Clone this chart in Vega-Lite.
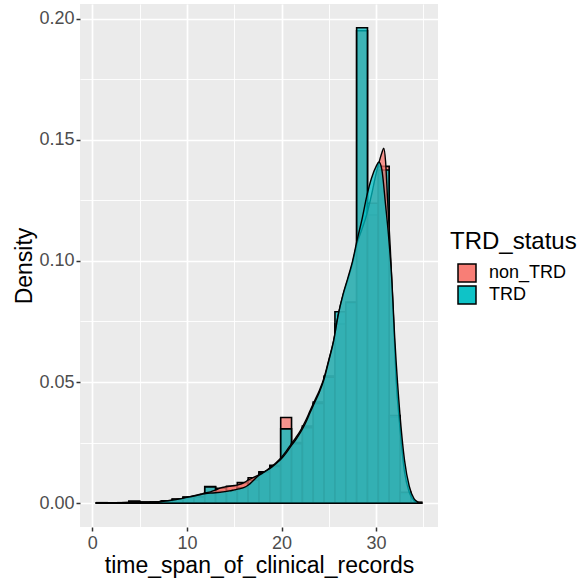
{
  "$schema": "https://vega.github.io/schema/vega-lite/v6.json",
  "width": 358,
  "height": 523,
  "autosize": {"type": "none"},
  "padding": {"left": 80, "top": 4, "right": 147, "bottom": 51},
  "background": "white",
  "config": {
    "view": {"fill": "#EBEBEB", "stroke": null},
    "font": "Liberation Sans",
    "axis": {
      "domain": false,
      "gridColor": "white",
      "tickColor": "#333333",
      "tickSize": 4,
      "tickWidth": 1.5,
      "labelColor": "#4D4D4D",
      "labelFontSize": 18,
      "labelFont": "Liberation Sans",
      "labelFlush": false,
      "labelOverlap": false,
      "titleFont": "Liberation Sans",
      "titleFontSize": 23,
      "titleFontWeight": "normal",
      "titleColor": "black"
    }
  },
  "datasets": {
    "bins": [
      {"TRD_status": "non_TRD", "x0": 0.42, "x1": 1.567, "density": 0.0002},
      {"TRD_status": "non_TRD", "x0": 1.567, "x1": 2.713, "density": 0.0001},
      {"TRD_status": "non_TRD", "x0": 2.713, "x1": 3.86, "density": 0.0002},
      {"TRD_status": "non_TRD", "x0": 3.86, "x1": 5.007, "density": 0.0008},
      {"TRD_status": "non_TRD", "x0": 5.007, "x1": 6.153, "density": 0.0004},
      {"TRD_status": "non_TRD", "x0": 6.153, "x1": 7.3, "density": 0.0004},
      {"TRD_status": "non_TRD", "x0": 7.3, "x1": 8.447, "density": 0.0009},
      {"TRD_status": "non_TRD", "x0": 8.447, "x1": 9.593, "density": 0.0017},
      {"TRD_status": "non_TRD", "x0": 9.593, "x1": 10.74, "density": 0.0025},
      {"TRD_status": "non_TRD", "x0": 10.74, "x1": 11.887, "density": 0.0027},
      {"TRD_status": "non_TRD", "x0": 11.887, "x1": 13.033, "density": 0.0069},
      {"TRD_status": "non_TRD", "x0": 13.033, "x1": 14.18, "density": 0.0062},
      {"TRD_status": "non_TRD", "x0": 14.18, "x1": 15.327, "density": 0.007},
      {"TRD_status": "non_TRD", "x0": 15.327, "x1": 16.473, "density": 0.0085},
      {"TRD_status": "non_TRD", "x0": 16.473, "x1": 17.62, "density": 0.0105},
      {"TRD_status": "non_TRD", "x0": 17.62, "x1": 18.767, "density": 0.013},
      {"TRD_status": "non_TRD", "x0": 18.767, "x1": 19.913, "density": 0.0156},
      {"TRD_status": "non_TRD", "x0": 19.913, "x1": 21.06, "density": 0.0354},
      {"TRD_status": "non_TRD", "x0": 21.06, "x1": 22.207, "density": 0.025},
      {"TRD_status": "non_TRD", "x0": 22.207, "x1": 23.353, "density": 0.0318},
      {"TRD_status": "non_TRD", "x0": 23.353, "x1": 24.5, "density": 0.0418},
      {"TRD_status": "non_TRD", "x0": 24.5, "x1": 25.647, "density": 0.0525},
      {"TRD_status": "non_TRD", "x0": 25.647, "x1": 26.793, "density": 0.074},
      {"TRD_status": "non_TRD", "x0": 26.793, "x1": 27.94, "density": 0.0825},
      {"TRD_status": "non_TRD", "x0": 27.94, "x1": 29.087, "density": 0.195},
      {"TRD_status": "non_TRD", "x0": 29.087, "x1": 30.233, "density": 0.119},
      {"TRD_status": "non_TRD", "x0": 30.233, "x1": 31.38, "density": 0.139},
      {"TRD_status": "non_TRD", "x0": 31.38, "x1": 32.527, "density": 0.0355},
      {"TRD_status": "non_TRD", "x0": 32.527, "x1": 33.673, "density": 0.004},
      {"TRD_status": "non_TRD", "x0": 33.673, "x1": 34.82, "density": 0.0003},
      {"TRD_status": "TRD", "x0": 0.42, "x1": 1.567, "density": 0.0002},
      {"TRD_status": "TRD", "x0": 1.567, "x1": 2.713, "density": 0.0001},
      {"TRD_status": "TRD", "x0": 2.713, "x1": 3.86, "density": 0.0002},
      {"TRD_status": "TRD", "x0": 3.86, "x1": 5.007, "density": 0.0008},
      {"TRD_status": "TRD", "x0": 5.007, "x1": 6.153, "density": 0.0004},
      {"TRD_status": "TRD", "x0": 6.153, "x1": 7.3, "density": 0.0004},
      {"TRD_status": "TRD", "x0": 7.3, "x1": 8.447, "density": 0.0009},
      {"TRD_status": "TRD", "x0": 8.447, "x1": 9.593, "density": 0.0016},
      {"TRD_status": "TRD", "x0": 9.593, "x1": 10.74, "density": 0.0024},
      {"TRD_status": "TRD", "x0": 10.74, "x1": 11.887, "density": 0.0026},
      {"TRD_status": "TRD", "x0": 11.887, "x1": 13.033, "density": 0.0067},
      {"TRD_status": "TRD", "x0": 13.033, "x1": 14.18, "density": 0.0048},
      {"TRD_status": "TRD", "x0": 14.18, "x1": 15.327, "density": 0.0052},
      {"TRD_status": "TRD", "x0": 15.327, "x1": 16.473, "density": 0.0064},
      {"TRD_status": "TRD", "x0": 16.473, "x1": 17.62, "density": 0.0095},
      {"TRD_status": "TRD", "x0": 17.62, "x1": 18.767, "density": 0.0128},
      {"TRD_status": "TRD", "x0": 18.767, "x1": 19.913, "density": 0.0152},
      {"TRD_status": "TRD", "x0": 19.913, "x1": 21.06, "density": 0.0307},
      {"TRD_status": "TRD", "x0": 21.06, "x1": 22.207, "density": 0.0246},
      {"TRD_status": "TRD", "x0": 22.207, "x1": 23.353, "density": 0.0312},
      {"TRD_status": "TRD", "x0": 23.353, "x1": 24.5, "density": 0.0412},
      {"TRD_status": "TRD", "x0": 24.5, "x1": 25.647, "density": 0.052},
      {"TRD_status": "TRD", "x0": 25.647, "x1": 26.793, "density": 0.079},
      {"TRD_status": "TRD", "x0": 26.793, "x1": 27.94, "density": 0.083},
      {"TRD_status": "TRD", "x0": 27.94, "x1": 29.087, "density": 0.1962},
      {"TRD_status": "TRD", "x0": 29.087, "x1": 30.233, "density": 0.1238},
      {"TRD_status": "TRD", "x0": 30.233, "x1": 31.38, "density": 0.1375},
      {"TRD_status": "TRD", "x0": 31.38, "x1": 32.527, "density": 0.0362},
      {"TRD_status": "TRD", "x0": 32.527, "x1": 33.673, "density": 0.0045},
      {"TRD_status": "TRD", "x0": 33.673, "x1": 34.82, "density": 0.0004}
    ],
    "curves": [
      {"TRD_status": "non_TRD", "x": 0.42, "density": 0},
      {"TRD_status": "non_TRD", "x": 1, "density": 0.00005},
      {"TRD_status": "non_TRD", "x": 2, "density": 0.0001},
      {"TRD_status": "non_TRD", "x": 3, "density": 0.0002},
      {"TRD_status": "non_TRD", "x": 4, "density": 0.0003},
      {"TRD_status": "non_TRD", "x": 5, "density": 0.0004},
      {"TRD_status": "non_TRD", "x": 6, "density": 0.0004},
      {"TRD_status": "non_TRD", "x": 7, "density": 0.0006},
      {"TRD_status": "non_TRD", "x": 8, "density": 0.001},
      {"TRD_status": "non_TRD", "x": 9, "density": 0.0016},
      {"TRD_status": "non_TRD", "x": 10, "density": 0.0024},
      {"TRD_status": "non_TRD", "x": 11, "density": 0.0033},
      {"TRD_status": "non_TRD", "x": 11.5, "density": 0.0038},
      {"TRD_status": "non_TRD", "x": 12, "density": 0.0043},
      {"TRD_status": "non_TRD", "x": 12.5, "density": 0.0047},
      {"TRD_status": "non_TRD", "x": 13, "density": 0.0054},
      {"TRD_status": "non_TRD", "x": 13.5, "density": 0.0062},
      {"TRD_status": "non_TRD", "x": 14, "density": 0.0067},
      {"TRD_status": "non_TRD", "x": 14.5, "density": 0.007},
      {"TRD_status": "non_TRD", "x": 15, "density": 0.0073},
      {"TRD_status": "non_TRD", "x": 15.5, "density": 0.0077},
      {"TRD_status": "non_TRD", "x": 16, "density": 0.0084},
      {"TRD_status": "non_TRD", "x": 16.5, "density": 0.0096},
      {"TRD_status": "non_TRD", "x": 17, "density": 0.0106},
      {"TRD_status": "non_TRD", "x": 17.5, "density": 0.0115},
      {"TRD_status": "non_TRD", "x": 18, "density": 0.0126},
      {"TRD_status": "non_TRD", "x": 18.5, "density": 0.0138},
      {"TRD_status": "non_TRD", "x": 19, "density": 0.0153},
      {"TRD_status": "non_TRD", "x": 19.5, "density": 0.017},
      {"TRD_status": "non_TRD", "x": 20, "density": 0.019},
      {"TRD_status": "non_TRD", "x": 20.5, "density": 0.0215},
      {"TRD_status": "non_TRD", "x": 21, "density": 0.0243},
      {"TRD_status": "non_TRD", "x": 21.5, "density": 0.027},
      {"TRD_status": "non_TRD", "x": 22, "density": 0.03},
      {"TRD_status": "non_TRD", "x": 22.5, "density": 0.0337},
      {"TRD_status": "non_TRD", "x": 23, "density": 0.038},
      {"TRD_status": "non_TRD", "x": 23.5, "density": 0.0423},
      {"TRD_status": "non_TRD", "x": 24, "density": 0.0465},
      {"TRD_status": "non_TRD", "x": 24.5, "density": 0.0518},
      {"TRD_status": "non_TRD", "x": 25, "density": 0.0592},
      {"TRD_status": "non_TRD", "x": 25.5, "density": 0.067},
      {"TRD_status": "non_TRD", "x": 26, "density": 0.0778},
      {"TRD_status": "non_TRD", "x": 26.5, "density": 0.0858},
      {"TRD_status": "non_TRD", "x": 27, "density": 0.0922},
      {"TRD_status": "non_TRD", "x": 27.5, "density": 0.099},
      {"TRD_status": "non_TRD", "x": 28, "density": 0.1075},
      {"TRD_status": "non_TRD", "x": 28.5, "density": 0.113},
      {"TRD_status": "non_TRD", "x": 29, "density": 0.119},
      {"TRD_status": "non_TRD", "x": 29.5, "density": 0.127},
      {"TRD_status": "non_TRD", "x": 30, "density": 0.136},
      {"TRD_status": "non_TRD", "x": 30.4, "density": 0.142},
      {"TRD_status": "non_TRD", "x": 30.6, "density": 0.1445},
      {"TRD_status": "non_TRD", "x": 30.8, "density": 0.1465},
      {"TRD_status": "non_TRD", "x": 31, "density": 0.141},
      {"TRD_status": "non_TRD", "x": 31.2, "density": 0.126},
      {"TRD_status": "non_TRD", "x": 31.5, "density": 0.105},
      {"TRD_status": "non_TRD", "x": 31.8, "density": 0.08},
      {"TRD_status": "non_TRD", "x": 32.1, "density": 0.052},
      {"TRD_status": "non_TRD", "x": 32.5, "density": 0.032},
      {"TRD_status": "non_TRD", "x": 33, "density": 0.013},
      {"TRD_status": "non_TRD", "x": 33.5, "density": 0.0045},
      {"TRD_status": "non_TRD", "x": 34, "density": 0.001},
      {"TRD_status": "non_TRD", "x": 34.4, "density": 0.0002},
      {"TRD_status": "non_TRD", "x": 34.82, "density": 0},
      {"TRD_status": "TRD", "x": 0.42, "density": 0},
      {"TRD_status": "TRD", "x": 1, "density": 0.00005},
      {"TRD_status": "TRD", "x": 2, "density": 0.0001},
      {"TRD_status": "TRD", "x": 3, "density": 0.0002},
      {"TRD_status": "TRD", "x": 4, "density": 0.0003},
      {"TRD_status": "TRD", "x": 5, "density": 0.0004},
      {"TRD_status": "TRD", "x": 6, "density": 0.0004},
      {"TRD_status": "TRD", "x": 7, "density": 0.0006},
      {"TRD_status": "TRD", "x": 8, "density": 0.001},
      {"TRD_status": "TRD", "x": 9, "density": 0.0016},
      {"TRD_status": "TRD", "x": 10, "density": 0.0024},
      {"TRD_status": "TRD", "x": 11, "density": 0.0032},
      {"TRD_status": "TRD", "x": 11.5, "density": 0.0036},
      {"TRD_status": "TRD", "x": 12, "density": 0.004},
      {"TRD_status": "TRD", "x": 12.5, "density": 0.0042},
      {"TRD_status": "TRD", "x": 13, "density": 0.0043},
      {"TRD_status": "TRD", "x": 13.5, "density": 0.0045},
      {"TRD_status": "TRD", "x": 14, "density": 0.0048},
      {"TRD_status": "TRD", "x": 14.5, "density": 0.0051},
      {"TRD_status": "TRD", "x": 15, "density": 0.0055},
      {"TRD_status": "TRD", "x": 15.5, "density": 0.0059},
      {"TRD_status": "TRD", "x": 16, "density": 0.0064},
      {"TRD_status": "TRD", "x": 16.5, "density": 0.0075},
      {"TRD_status": "TRD", "x": 17, "density": 0.0093},
      {"TRD_status": "TRD", "x": 17.5, "density": 0.0112},
      {"TRD_status": "TRD", "x": 18, "density": 0.0124},
      {"TRD_status": "TRD", "x": 18.5, "density": 0.0136},
      {"TRD_status": "TRD", "x": 19, "density": 0.015},
      {"TRD_status": "TRD", "x": 19.5, "density": 0.0166},
      {"TRD_status": "TRD", "x": 20, "density": 0.0184},
      {"TRD_status": "TRD", "x": 20.5, "density": 0.0208},
      {"TRD_status": "TRD", "x": 21, "density": 0.0236},
      {"TRD_status": "TRD", "x": 21.5, "density": 0.0262},
      {"TRD_status": "TRD", "x": 22, "density": 0.0292},
      {"TRD_status": "TRD", "x": 22.5, "density": 0.0328},
      {"TRD_status": "TRD", "x": 23, "density": 0.0372},
      {"TRD_status": "TRD", "x": 23.5, "density": 0.0416},
      {"TRD_status": "TRD", "x": 24, "density": 0.0458},
      {"TRD_status": "TRD", "x": 24.5, "density": 0.0512},
      {"TRD_status": "TRD", "x": 25, "density": 0.0588},
      {"TRD_status": "TRD", "x": 25.5, "density": 0.0668},
      {"TRD_status": "TRD", "x": 26, "density": 0.0778},
      {"TRD_status": "TRD", "x": 26.5, "density": 0.0862},
      {"TRD_status": "TRD", "x": 27, "density": 0.0928},
      {"TRD_status": "TRD", "x": 27.5, "density": 0.0998},
      {"TRD_status": "TRD", "x": 28, "density": 0.1088},
      {"TRD_status": "TRD", "x": 28.5, "density": 0.117},
      {"TRD_status": "TRD", "x": 29, "density": 0.1265},
      {"TRD_status": "TRD", "x": 29.5, "density": 0.134},
      {"TRD_status": "TRD", "x": 30, "density": 0.139},
      {"TRD_status": "TRD", "x": 30.3, "density": 0.1408},
      {"TRD_status": "TRD", "x": 30.6, "density": 0.1378},
      {"TRD_status": "TRD", "x": 31, "density": 0.123},
      {"TRD_status": "TRD", "x": 31.3, "density": 0.111},
      {"TRD_status": "TRD", "x": 31.6, "density": 0.096},
      {"TRD_status": "TRD", "x": 32, "density": 0.066},
      {"TRD_status": "TRD", "x": 32.5, "density": 0.0375},
      {"TRD_status": "TRD", "x": 33, "density": 0.0178},
      {"TRD_status": "TRD", "x": 33.5, "density": 0.007},
      {"TRD_status": "TRD", "x": 34, "density": 0.0019},
      {"TRD_status": "TRD", "x": 34.4, "density": 0.0005},
      {"TRD_status": "TRD", "x": 34.82, "density": 0}
    ]
  },
  "layer": [
    {
      "data": {"name": "bins"},
      "transform": [{"filter": "datum.TRD_status === 'non_TRD'"}],
      "mark": {"type": "rect", "stroke": "black", "strokeWidth": 1.6, "fillOpacity": 0.75},
      "encoding": {
        "x": {
          "field": "x0", "type": "quantitative",
          "scale": {"domain": [-1.3, 36.54], "nice": false, "zero": false},
          "axis": {
            "title": "time_span_of_clinical_records",
            "values": [0, 5, 10, 15, 20, 25, 30, 35],
            "labelExpr": "datum.value % 10 === 0 ? datum.label : ''",
            "gridWidth": {"condition": {"test": "datum.value % 10 === 0", "value": 1.7}, "value": 0.9},
            "tickOpacity": {"condition": {"test": "datum.value % 10 === 0", "value": 1}, "value": 0},
            "labelPadding": 3,
            "titlePadding": 2
          }
        },
        "x2": {"field": "x1"},
        "y": {
          "field": "density", "type": "quantitative",
          "scale": {"domain": [-0.00981, 0.20601], "nice": false, "zero": false},
          "axis": {
            "title": "Density",
            "values": [0, 0.025, 0.05, 0.075, 0.1, 0.125, 0.15, 0.175, 0.2],
            "format": ".2f",
            "labelExpr": "round(datum.value * 40) % 2 === 0 ? datum.label : ''",
            "gridWidth": {"condition": {"test": "round(datum.value * 40) % 2 === 0", "value": 1.7}, "value": 0.9},
            "tickOpacity": {"condition": {"test": "round(datum.value * 40) % 2 === 0", "value": 1}, "value": 0},
            "labelPadding": 2,
            "titlePadding": 2
          }
        },
        "y2": {"datum": 0},
        "fill": {
          "field": "TRD_status", "type": "nominal",
          "scale": {"domain": ["non_TRD", "TRD"], "range": ["#F8766D", "#00BFC4"]},
          "legend": {
            "orient": "none",
            "legendX": 370,
            "legendY": 226,
            "title": "TRD_status",
            "titleFontSize": 24,
            "titleFontWeight": "normal",
            "titleColor": "black",
            "titlePadding": 9,
            "labelFontSize": 18,
            "labelColor": "black",
            "labelOffset": 12,
            "symbolType": "square",
            "symbolSize": 324,
            "symbolOffset": 7,
            "symbolStrokeColor": "black",
            "symbolStrokeWidth": 1.5,
            "symbolOpacity": 1,
            "rowPadding": -6,
            "padding": 0,
            "encode": {"symbols": {"update": {"fillOpacity": {"value": 0.94}}}}
          }
        }
      }
    },
    {
      "data": {"name": "bins"},
      "transform": [{"filter": "datum.TRD_status === 'TRD'"}],
      "mark": {"type": "rect", "stroke": "black", "strokeWidth": 1.6, "fillOpacity": 0.75},
      "encoding": {
        "x": {"field": "x0", "type": "quantitative"},
        "x2": {"field": "x1"},
        "y": {"field": "density", "type": "quantitative"},
        "y2": {"datum": 0},
        "fill": {"field": "TRD_status", "type": "nominal"}
      }
    },
    {
      "data": {"name": "curves"},
      "transform": [{"filter": "datum.TRD_status === 'non_TRD'"}],
      "mark": {"type": "area", "interpolate": "monotone", "stroke": "black", "strokeWidth": 1.4, "fillOpacity": 0.75},
      "encoding": {
        "x": {"field": "x", "type": "quantitative"},
        "y": {"field": "density", "type": "quantitative"},
        "y2": {"datum": 0},
        "fill": {"field": "TRD_status", "type": "nominal"}
      }
    },
    {
      "data": {"name": "curves"},
      "transform": [{"filter": "datum.TRD_status === 'TRD'"}],
      "mark": {"type": "area", "interpolate": "monotone", "stroke": "black", "strokeWidth": 1.4, "fillOpacity": 0.75},
      "encoding": {
        "x": {"field": "x", "type": "quantitative"},
        "y": {"field": "density", "type": "quantitative"},
        "y2": {"datum": 0},
        "fill": {"field": "TRD_status", "type": "nominal"}
      }
    }
  ]
}
